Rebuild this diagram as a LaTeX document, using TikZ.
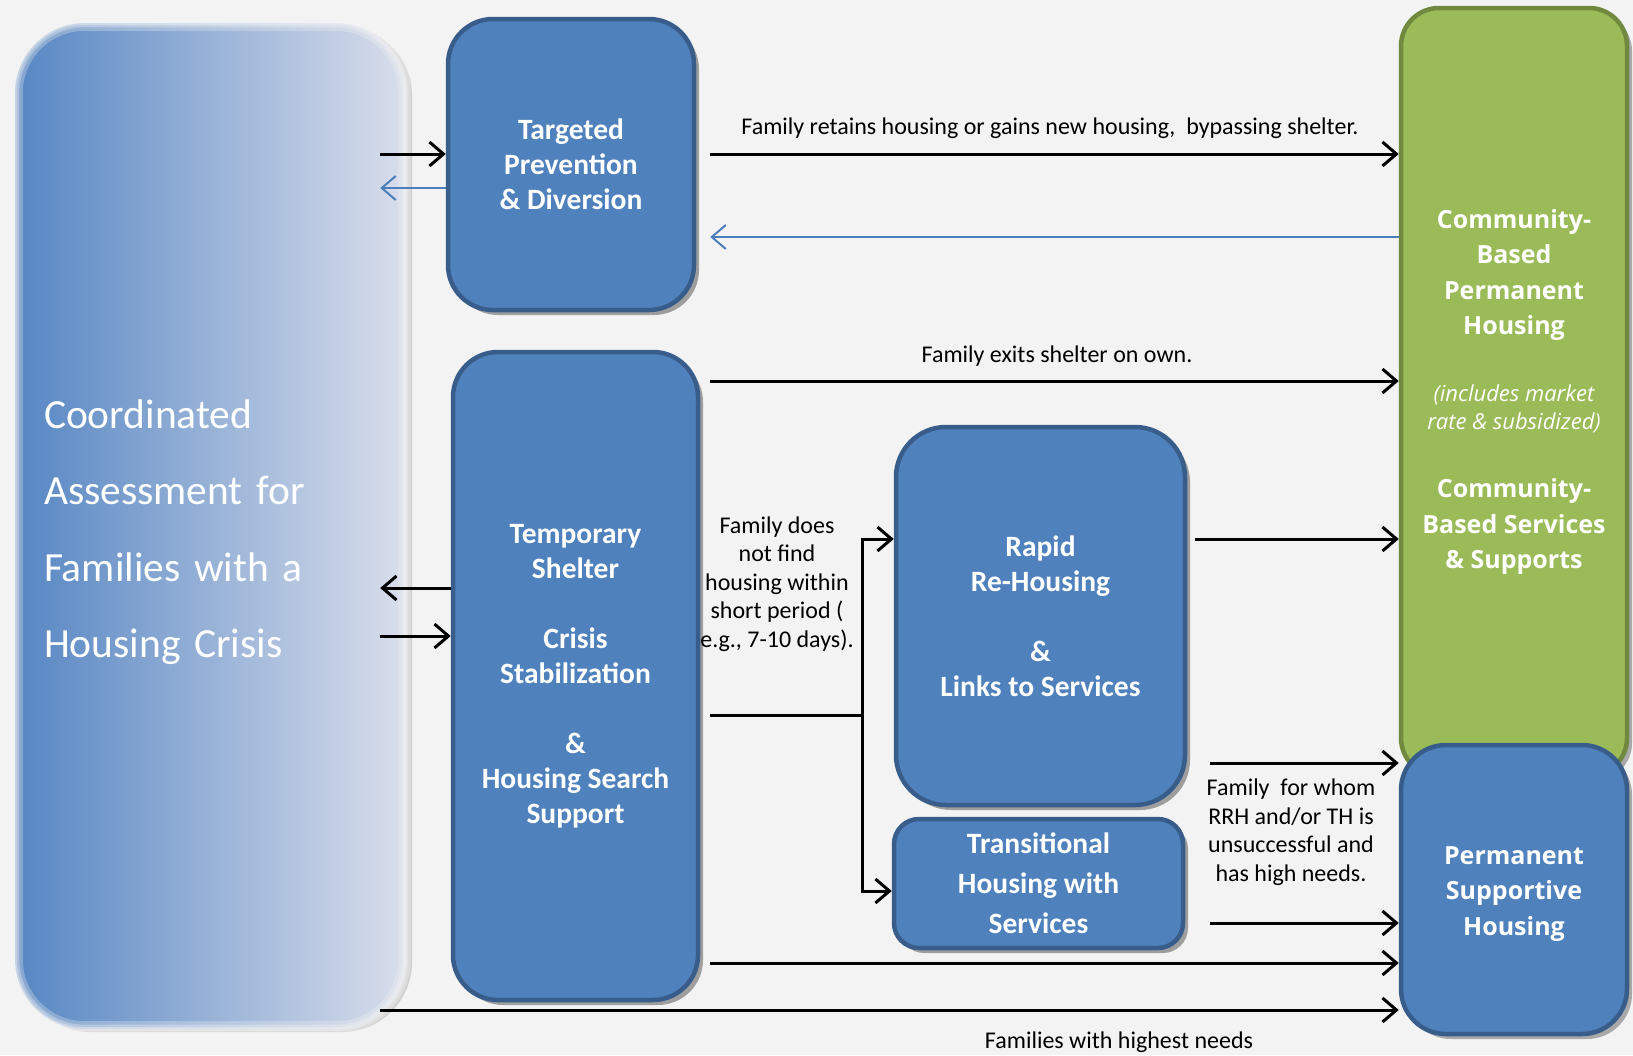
\documentclass[tikz,border=0pt]{standalone}
\usepackage{fontspec}
\setmainfont{Carlito}
\newfontfamily\segfont{Open Sans}
\usetikzlibrary{arrows.meta,shadows,calc}

\definecolor{bgc}{HTML}{F3F3F3}
\definecolor{boxblue}{HTML}{4F81BD}
\definecolor{boxblueline}{HTML}{385D8A}
\definecolor{boxgreen}{HTML}{9BBB59}
\definecolor{boxgreenline}{HTML}{71893F}
\definecolor{backblue}{HTML}{4A7EBB}
\definecolor{fadeleft}{HTML}{5686C3}
\definecolor{faderight}{HTML}{D9DEEB}

\newcommand\gitalic{\itshape\fontsize{22}{28}\selectfont}

\tikzset{
  stagebox/.style={draw=boxblueline, fill=boxblue, line width=4.5pt,
    text=white, align=center, inner sep=0pt,
    font=\bfseries\fontsize{29.5}{35}\selectfont,
    drop shadow={shadow xshift=5pt, shadow yshift=-5pt, opacity=.35, fill=black}},
  greenbox/.style={draw=boxgreenline, fill=boxgreen, line width=4.5pt,
    text=white, align=center, inner sep=0pt,
    font=\segfont\bfseries\fontsize{25}{35.4}\selectfont,
    drop shadow={shadow xshift=5pt, shadow yshift=-5pt, opacity=.3, fill=black}},
  flowarrow/.style={draw=black, line width=3pt,
    -{Straight Barb[length=14pt, width=24pt]}},
  flowline/.style={draw=black, line width=3pt},
  backarrow/.style={draw=backblue, line width=2pt,
    -{Straight Barb[length=14pt, width=24pt]}},
  flowlabel/.style={align=center, inner sep=0pt, text=black,
    font=\fontsize{24}{28.5}\selectfont},
}

\begin{document}
\begin{tikzpicture}[x=1pt, y=-1pt]
  % page background
  \fill[bgc] (0,0) rectangle (1633,1055);
  \useasboundingbox (0,0) rectangle (1633,1055);

  % coordinated assessment panel with a soft, faded edge
  \node[rounded corners=70pt, left color=fadeleft, right color=faderight,
        minimum width=391pt, minimum height=1006pt, inner sep=0pt,
        drop shadow={shadow xshift=6pt, shadow yshift=-3pt, opacity=.2, fill=black},
        text width=333pt, align=left, text=white,
        font=\fontsize{41.5}{76.5}\selectfont]
    (cafh) at (210.5,526) {};
  \foreach \w/\o in {16/.30, 9/.35, 4/.40}
    \draw[bgc, opacity=\o, line width=\w pt, rounded corners=70pt]
      (cafh.south west) rectangle (cafh.north east);
  \node[text width=333pt, align=left, text=white, inner sep=0pt,
        font=\fontsize{41.5}{76.5}\selectfont]
    (cafhtext) at (210.5,532)
    {Coordinated\\Assessment for\\Families with a\\Housing Crisis};

  % program boxes
  \node[stagebox, rounded corners=45pt, minimum width=246pt, minimum height=291pt]
    (tpd) at (571,164.5) {Targeted\\Prevention\\\& Diversion};
  \node[stagebox, rounded corners=45pt, minimum width=245pt, minimum height=648pt]
    (ts) at (575.5,676)
    {Temporary\\Shelter\\[35pt]Crisis\\Stabilization\\[35pt]\&\\Housing Search\\Support};
  \node[stagebox, rounded corners=50pt, minimum width=289pt, minimum height=378pt]
    (rrh) at (1040.5,616) {Rapid\\Re-Housing\\[35pt]\&\\Links to Services};
  \node[stagebox, rounded corners=25pt, minimum width=289pt, minimum height=129pt,
        font=\bfseries\fontsize{29.5}{40}\selectfont]
    (th) at (1038.5,883.5) {Transitional\\Housing with\\Services};

  % destinations
  \node[greenbox, rounded corners=38pt, minimum width=226pt, minimum height=768pt]
    (cbph) at (1514,392)
    {Community-\\Based\\Permanent\\Housing\\[31.6pt]
     {\gitalic\mdseries (includes market}\\[-7.4pt]
     {\gitalic\mdseries rate \& subsidized)}\\[32.6pt]
     Community-\\Based Services\\\& Supports};
  \node[greenbox, draw=boxblueline, fill=boxblue, rounded corners=45pt,
        minimum width=226pt, minimum height=289pt]
    (psh) at (1514,889.5) {};
  \node[align=center, inner sep=0pt, text=white,
        font=\segfont\bfseries\fontsize{25}{35.4}\selectfont]
    (pshtext) at (1514,894) {Permanent\\Supportive\\Housing};

  % prevention paths
  \draw[flowarrow] ([xshift=-26pt]cafh.east |- 0,154) -- (tpd.west |- 0,154);
  \draw[backarrow] (tpd.west |- 0,188) -- ([xshift=-26pt]cafh.east |- 0,188);
  \draw[flowarrow] ([xshift=14pt]tpd.east |- 0,154) -- (cbph.west |- 0,154);
  \draw[backarrow] (cbph.west |- 0,237) -- ([xshift=14pt]tpd.east |- 0,237);
  \node[flowlabel] (retain) at (1050,128)
    {Family retains housing or gains new housing,\ \ bypassing shelter.};

  % shelter paths
  \draw[flowarrow] ([xshift=10pt]ts.east |- 0,381) -- (cbph.west |- 0,381);
  \node[flowlabel] (exits) at (1057,356) {Family exits shelter on own.};
  \draw[flowarrow] (ts.west |- 0,588) -- ([xshift=-26pt]cafh.east |- 0,588);
  \draw[flowarrow] ([xshift=-26pt]cafh.east |- 0,636) -- (ts.west |- 0,636);

  % shelter split into rapid re-housing and transitional housing
  \coordinate (split) at (862,715);
  \draw[flowline] ([xshift=10pt]ts.east |- split) -- (split);
  \draw[flowarrow] (split) |- (rrh.west |- 0,539);
  \draw[flowarrow] (split) |- (th.west |- 0,891);
  \node[flowlabel] (notfind) at (777,584)
    {Family does\\not find\\housing within\\short period (\\e.g., 7-10 days).};

  % exits to permanent housing
  \draw[flowarrow] ([xshift=8pt]rrh.east |- 0,539) -- (cbph.west |- 0,539);
  \draw[flowarrow] ([xshift=23pt]rrh.east |- 0,763) -- (cbph.west |- 0,763);
  \draw[flowarrow] ([xshift=25pt]th.east |- 0,923) -- (psh.west |- 0,923);
  \node[flowlabel] (unsucc) at (1291,832)
    {Family\ \ for whom\\RRH and/or TH is\\unsuccessful and\\has high needs.};
  \draw[flowarrow] ([xshift=10pt]ts.east |- 0,963) -- (psh.west |- 0,963);
  \draw[flowarrow] ([xshift=-26pt]cafh.east |- 0,1010) -- (psh.west |- 0,1010);
  \node[flowlabel] (highest) at (1119,1042) {Families with highest needs};
\end{tikzpicture}
\end{document}
